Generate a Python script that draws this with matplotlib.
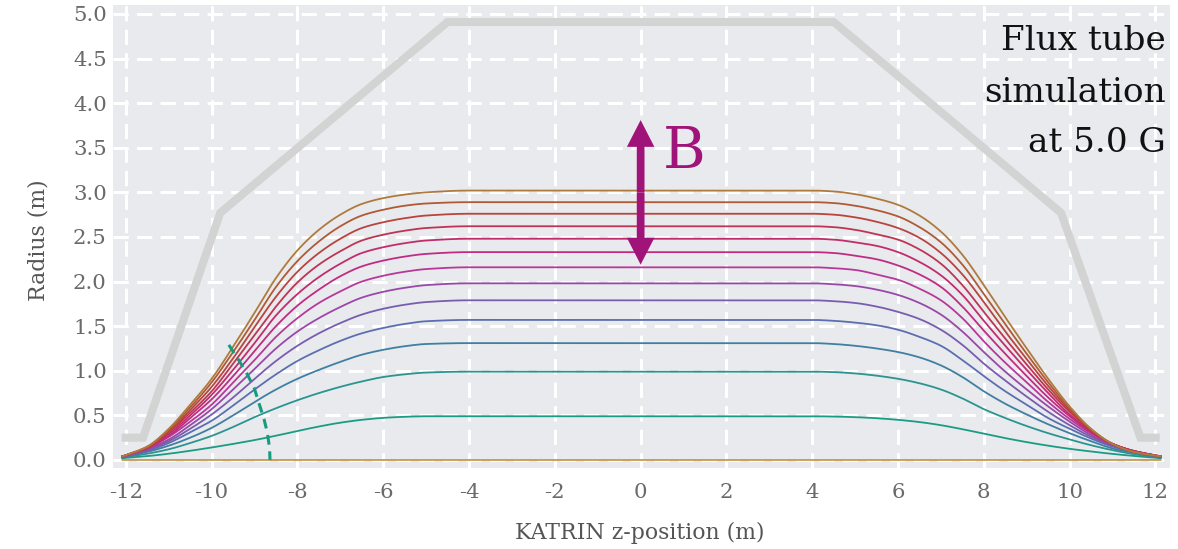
import numpy as np
import matplotlib
matplotlib.use('Agg')
import matplotlib.pyplot as plt
from matplotlib.patches import FancyArrow

# Flux-line plateau radii (m), bottom to top
plateau = [0.0, 0.49, 0.99, 1.31, 1.57, 1.79, 1.98, 2.16, 2.33, 2.48, 2.62, 2.76, 2.89, 3.02]

# z-positions (m) where the radii were read, left ramp and right ramp
z_left = [-12.08, -11.5, -11.0, -10.5, -10.0, -9.5, -9.0, -8.5, -8.0, -7.5, -7.0, -6.5, -6.0, -5.5, -5.0, -4.0]
z_right = [4.0, 4.5, 5.0, 5.5, 6.0, 6.5, 7.0, 7.5, 8.0, 8.5, 9.0, 9.5, 10.0, 10.5, 11.0, 11.5, 12.12]

# radii (m) of each flux line on the left ramp (one row per line)
left_radii = [
    [0.00, 0.00, 0.00, 0.00, 0.00, 0.00, 0.00, 0.00, 0.00, 0.00, 0.00, 0.00, 0.00, 0.00, 0.00, 0.00],
    [0.020, 0.043, 0.070, 0.103, 0.140, 0.180, 0.223, 0.272, 0.325, 0.375, 0.418, 0.450, 0.472, 0.484, 0.490, 0.490],
    [0.025, 0.07, 0.12, 0.19, 0.27, 0.37, 0.48, 0.58, 0.67, 0.75, 0.82, 0.88, 0.93, 0.96, 0.98, 0.99],
    [0.03, 0.09, 0.16, 0.25, 0.36, 0.50, 0.65, 0.79, 0.91, 1.01, 1.10, 1.18, 1.235, 1.275, 1.30, 1.31],
    [0.03, 0.10, 0.19, 0.31, 0.44, 0.61, 0.79, 0.96, 1.11, 1.23, 1.335, 1.42, 1.48, 1.525, 1.555, 1.57],
    [0.04, 0.11, 0.21, 0.35, 0.51, 0.70, 0.91, 1.11, 1.28, 1.42, 1.535, 1.63, 1.695, 1.74, 1.77, 1.79],
    [0.04, 0.12, 0.23, 0.39, 0.57, 0.79, 1.02, 1.25, 1.44, 1.59, 1.715, 1.82, 1.885, 1.93, 1.96, 1.98],
    [0.04, 0.13, 0.26, 0.43, 0.62, 0.87, 1.12, 1.38, 1.59, 1.76, 1.89, 2.00, 2.065, 2.11, 2.14, 2.16],
    [0.04, 0.13, 0.27, 0.47, 0.68, 0.94, 1.22, 1.50, 1.73, 1.91, 2.06, 2.17, 2.235, 2.28, 2.31, 2.33],
    [0.04, 0.14, 0.29, 0.50, 0.73, 1.01, 1.31, 1.62, 1.86, 2.05, 2.20, 2.32, 2.385, 2.43, 2.46, 2.48],
    [0.04, 0.14, 0.31, 0.53, 0.77, 1.08, 1.40, 1.72, 1.99, 2.19, 2.34, 2.46, 2.525, 2.57, 2.60, 2.62],
    [0.04, 0.14, 0.32, 0.56, 0.82, 1.14, 1.49, 1.83, 2.11, 2.32, 2.48, 2.60, 2.665, 2.71, 2.74, 2.76],
    [0.04, 0.15, 0.34, 0.59, 0.87, 1.21, 1.57, 1.94, 2.23, 2.45, 2.62, 2.74, 2.805, 2.85, 2.875, 2.89],
    [0.04, 0.15, 0.35, 0.62, 0.91, 1.27, 1.65, 2.04, 2.35, 2.58, 2.75, 2.87, 2.935, 2.975, 3.00, 3.02],
]

# radii (m) of each flux line on the right ramp (one row per line)
right_radii = [
    [0.00, 0.00, 0.00, 0.00, 0.00, 0.00, 0.00, 0.00, 0.00, 0.00, 0.00, 0.00, 0.00, 0.00, 0.00, 0.00, 0.00],
    [0.490, 0.487, 0.480, 0.468, 0.450, 0.425, 0.390, 0.345, 0.295, 0.245, 0.200, 0.160, 0.125, 0.095, 0.068, 0.045, 0.020],
    [0.99, 0.985, 0.97, 0.945, 0.91, 0.86, 0.79, 0.69, 0.57, 0.47, 0.38, 0.30, 0.23, 0.165, 0.11, 0.065, 0.025],
    [1.31, 1.30, 1.28, 1.25, 1.21, 1.15, 1.06, 0.93, 0.77, 0.63, 0.51, 0.40, 0.30, 0.21, 0.13, 0.08, 0.03],
    [1.57, 1.56, 1.54, 1.51, 1.46, 1.38, 1.28, 1.12, 0.94, 0.77, 0.62, 0.47, 0.35, 0.24, 0.15, 0.09, 0.03],
    [1.79, 1.78, 1.76, 1.72, 1.66, 1.58, 1.46, 1.29, 1.08, 0.89, 0.71, 0.54, 0.39, 0.26, 0.16, 0.09, 0.04],
    [1.98, 1.97, 1.95, 1.91, 1.85, 1.76, 1.63, 1.44, 1.21, 0.99, 0.79, 0.60, 0.43, 0.28, 0.17, 0.10, 0.04],
    [2.16, 2.15, 2.13, 2.08, 2.02, 1.92, 1.79, 1.59, 1.33, 1.09, 0.87, 0.65, 0.46, 0.30, 0.18, 0.10, 0.04],
    [2.33, 2.32, 2.29, 2.25, 2.18, 2.08, 1.94, 1.72, 1.45, 1.19, 0.94, 0.70, 0.49, 0.31, 0.18, 0.10, 0.04],
    [2.48, 2.47, 2.44, 2.40, 2.33, 2.22, 2.07, 1.85, 1.56, 1.28, 1.01, 0.75, 0.51, 0.32, 0.18, 0.10, 0.04],
    [2.62, 2.61, 2.58, 2.53, 2.47, 2.36, 2.20, 1.96, 1.66, 1.36, 1.07, 0.79, 0.54, 0.33, 0.18, 0.10, 0.04],
    [2.76, 2.75, 2.72, 2.67, 2.60, 2.49, 2.32, 2.08, 1.77, 1.44, 1.13, 0.83, 0.56, 0.34, 0.18, 0.09, 0.04],
    [2.89, 2.88, 2.85, 2.80, 2.73, 2.61, 2.44, 2.19, 1.86, 1.52, 1.19, 0.87, 0.58, 0.34, 0.18, 0.09, 0.04],
    [3.02, 3.01, 2.98, 2.93, 2.86, 2.74, 2.56, 2.30, 1.96, 1.60, 1.25, 0.91, 0.60, 0.35, 0.18, 0.09, 0.04],
]

colors = ['#c39a52', '#1a9c84', '#2a9490', '#3f7fa2', '#5b6fb0', '#7a5cae', '#9a48a8',
          '#b8389a', '#c02c84', '#c22c6c', '#bf3454', '#b8443e', '#b05a34', '#b07a3c']

# vessel outline (m)
vessel_z = [-12.1, -11.6, -9.8, -4.5, 4.5, 9.8, 11.65, 12.1]
vessel_r = [0.25, 0.25, 2.77, 4.91, 4.91, 2.77, 0.25, 0.25]

# dashed marker curve (m)
dash_z = [-9.60, -9.37, -9.17, -9.01, -8.90, -8.78, -8.70, -8.65, -8.64]
dash_r = [1.29, 1.12, 0.96, 0.81, 0.64, 0.46, 0.30, 0.13, 0.0]

# B-field arrow (m)
arrow_z = 0.0
arrow_r = [2.19, 3.81]

xticks = [-12, -10, -8, -6, -4, -2, 0, 2, 4, 6, 8, 10, 12]
xticklabels = ['-12', '-10', '-8', '-6', '-4', '-2', '0', '2', '4', '6', '8', '10', '12']
yticks = [0.0, 0.5, 1.0, 1.5, 2.0, 2.5, 3.0, 3.5, 4.0, 4.5, 5.0]
yticklabels = ['0.0', '0.5', '1.0', '1.5', '2.0', '2.5', '3.0', '3.5', '4.0', '4.5', '5.0']


def pchip(x, y, xs):
    """Monotone cubic (Fritsch-Carlson) curve through the read points."""
    x = np.asarray(x, float)
    y = np.asarray(y, float)
    h = np.diff(x)
    d = np.diff(y) / h
    m = np.zeros_like(y)
    for i in range(1, len(y) - 1):
        if d[i - 1] * d[i] > 0:
            w1 = 2 * h[i] + h[i - 1]
            w2 = h[i] + 2 * h[i - 1]
            m[i] = (w1 + w2) / (w1 / d[i - 1] + w2 / d[i])
    m[0] = d[0]
    m[-1] = d[-1]
    idx = np.clip(np.searchsorted(x, xs, side='right') - 1, 0, len(h) - 1)
    t = (xs - x[idx]) / h[idx]
    h00 = 2 * t**3 - 3 * t**2 + 1
    h10 = t**3 - 2 * t**2 + t
    h01 = -2 * t**3 + 3 * t**2
    h11 = t**3 - t**2
    return h00 * y[idx] + h10 * h[idx] * m[idx] + h01 * y[idx + 1] + h11 * h[idx] * m[idx + 1]


fig = plt.figure(figsize=(11.78, 5.49), dpi=100)
ax = fig.add_axes([113 / 1178, 1 - 468 / 549, (1170 - 113) / 1178, (468 - 5) / 549])
ax.set_facecolor('#e8eaed')
ax.set_xlim(-12.30, 12.34)
ax.set_ylim(-0.09, 5.10)
for s in ax.spines.values():
    s.set_visible(False)
ax.set_axisbelow(True)
ax.grid(color='white', lw=2.2, ls=(0, (5, 2.7)))
ax.set_xticks(xticks)
ax.set_xticklabels(xticklabels)
ax.set_yticks(yticks)
ax.set_yticklabels(yticklabels)
ax.tick_params(axis='both', length=0, labelsize=15.3, labelcolor='#6a6a6a')
ax.tick_params(axis='x', pad=11)
ax.tick_params(axis='y', pad=4.5)
for lab in ax.get_xticklabels() + ax.get_yticklabels():
    lab.set_family('DejaVu Serif')

ax.plot(vessel_z, vessel_r, color='#d3d3d3', lw=5.8, solid_capstyle='butt',
        solid_joinstyle='miter', zorder=2)

z_nodes = z_left + z_right
zs = np.linspace(z_nodes[0], z_nodes[-1], 1500)
for k in range(len(plateau)):
    vals = left_radii[k] + right_radii[k]
    ax.plot(zs, pchip(z_nodes, vals, zs), color=colors[k], lw=1.3, zorder=3)

ax.plot(dash_z, dash_r, color='#159c80', lw=2.2, ls=(0, (3.2, 2.2)), zorder=4)

arrow_c = '#a0147a'
mid = (arrow_r[0] + arrow_r[1]) / 2
for tip in arrow_r:
    ax.add_patch(FancyArrow(arrow_z, mid, 0, tip - mid, width=0.18, head_width=0.64,
                            head_length=0.30, length_includes_head=True, color=arrow_c,
                            lw=0, zorder=5))
fig.text(663 / 1178, 1 - 168 / 549, 'B', family='DejaVu Serif', fontsize=42, color=arrow_c,
         ha='left', va='baseline')

for txt, base in [('Flux tube', 50), ('simulation', 101.7), ('at 5.0 G', 151.7)]:
    fig.text(1166 / 1178, 1 - base / 549, txt, family='DejaVu Serif', fontsize=24.7,
             color='#111111', ha='right', va='baseline')

fig.text(38 / 1178, 1 - 240 / 549, 'Radius (m)', family='DejaVu Serif', fontsize=15.8,
         color='#555555', rotation=90, ha='center', va='center')
fig.text(640 / 1178, 1 - 533 / 549, 'KATRIN z-position (m)', family='DejaVu Serif',
         fontsize=15.8, color='#555555', ha='center', va='center')

fig.savefig('out.png', dpi=100)
